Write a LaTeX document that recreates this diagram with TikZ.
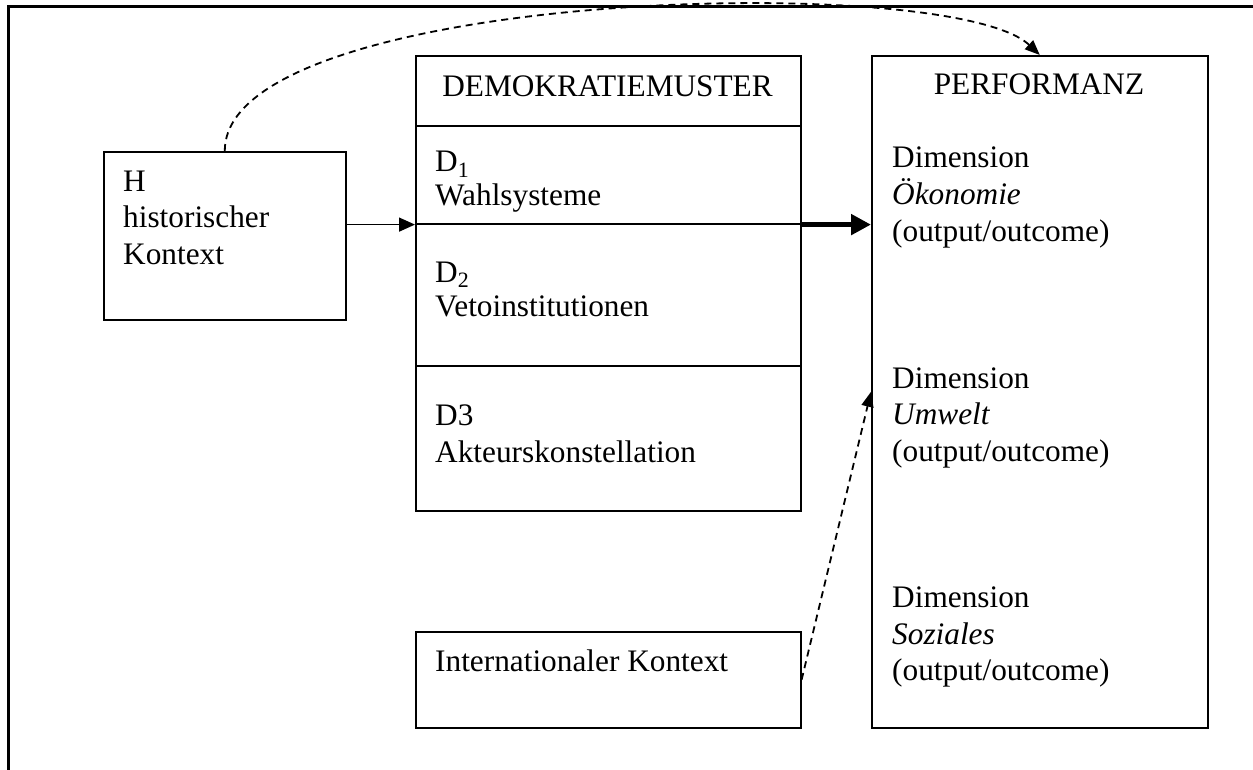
\documentclass[tikz,border=0pt]{standalone}
\usepackage{fontspec}
\setmainfont{Liberation Serif}
\usetikzlibrary{arrows.meta}
\begin{document}
\begin{tikzpicture}[x=1pt,y=-1pt,
  box/.style={draw, line width=1.6pt, rectangle, inner sep=0pt, anchor=north west},
  txt/.style={anchor=base west, inner sep=0pt, font=\fontsize{31.3}{36.5}\selectfont},
  ctxt/.style={anchor=base, inner sep=0pt, font=\fontsize{31.3}{36.5}\selectfont},
  thinarrow/.style={line width=1.4pt, -{Triangle[length=16pt,width=14pt]}},
  thickarrow/.style={line width=5pt, -{Triangle[length=20pt,width=20pt]}},
  dasharrow/.style={line width=1.8pt, dash pattern=on 7pt off 5pt, -{Triangle[length=15pt,width=12pt]}},
  frame/.style={line width=3pt}
]
\useasboundingbox (0,0) rectangle (1253,770);
% frame
\coordinate (fa) at (8,771);
\coordinate (fb) at (8,7);
\coordinate (fc) at (1254,7);
\draw[frame] (fa) -- (fb) -- (fc);
% boxes
\node[box, minimum width=242pt, minimum height=168pt] (H) at (103,151) {};
\node[box, minimum width=385pt, minimum height=70pt] (title) at (415,55) {};
\node[box, minimum width=385pt, minimum height=98pt] (d1) at (415,125) {};
\node[box, minimum width=385pt, minimum height=142pt] (d2) at (415,223) {};
\node[box, minimum width=385pt, minimum height=145pt] (d3) at (415,365) {};
\node[box, minimum width=385pt, minimum height=96pt] (intl) at (415,631) {};
\node[box, minimum width=336pt, minimum height=672pt] (P) at (871,55) {};
% texts
\node[txt] (h1) at (123,192) {H};
\node[txt] (h2) at (123,228) {historischer};
\node[txt] (h3) at (123,264) {Kontext};
\node[ctxt] (tt) at (607.5,97) {DEMOKRATIEMUSTER};
\node[txt] (t1a) at (435,172) {D\textsubscript{1}};
\node[txt] (t1b) at (435,206) {Wahlsysteme};
\node[txt] (t2a) at (435,282) {D\textsubscript{2}};
\node[txt] (t2b) at (435,316) {Vetoinstitutionen};
\node[txt] (t3a) at (435,425) {D3};
\node[txt] (t3b) at (435,462) {Akteurskonstellation};
\node[txt] (ti) at (435,671) {Internationaler Kontext};
\node[ctxt] (pt) at (1039,95) {PERFORMANZ};
\node[txt] (p1a) at (892,168) {Dimension};
\node[txt] (p1b) at (892,204.5) {\textit{Ökonomie}};
\node[txt] (p1c) at (892,241) {(output/outcome)};
\node[txt] (p2a) at (892,388) {Dimension};
\node[txt] (p2b) at (892,424.5) {\textit{Umwelt}};
\node[txt] (p2c) at (892,461) {(output/outcome)};
\node[txt] (p3a) at (892,607.5) {Dimension};
\node[txt] (p3b) at (892,644) {\textit{Soziales}};
\node[txt] (p3c) at (892,680.5) {(output/outcome)};
% connectors
\draw[thinarrow] (H.east |- d1.south west) -- (d1.south west);
\draw[thickarrow] (d1.south east) -- (P.west |- d1.south east);
\draw[dasharrow] (H.north) .. controls (224,-10) and (950,-30) .. (P.north);
\draw[dasharrow] (intl.east) -- (P.west);
\end{tikzpicture}
\end{document}
